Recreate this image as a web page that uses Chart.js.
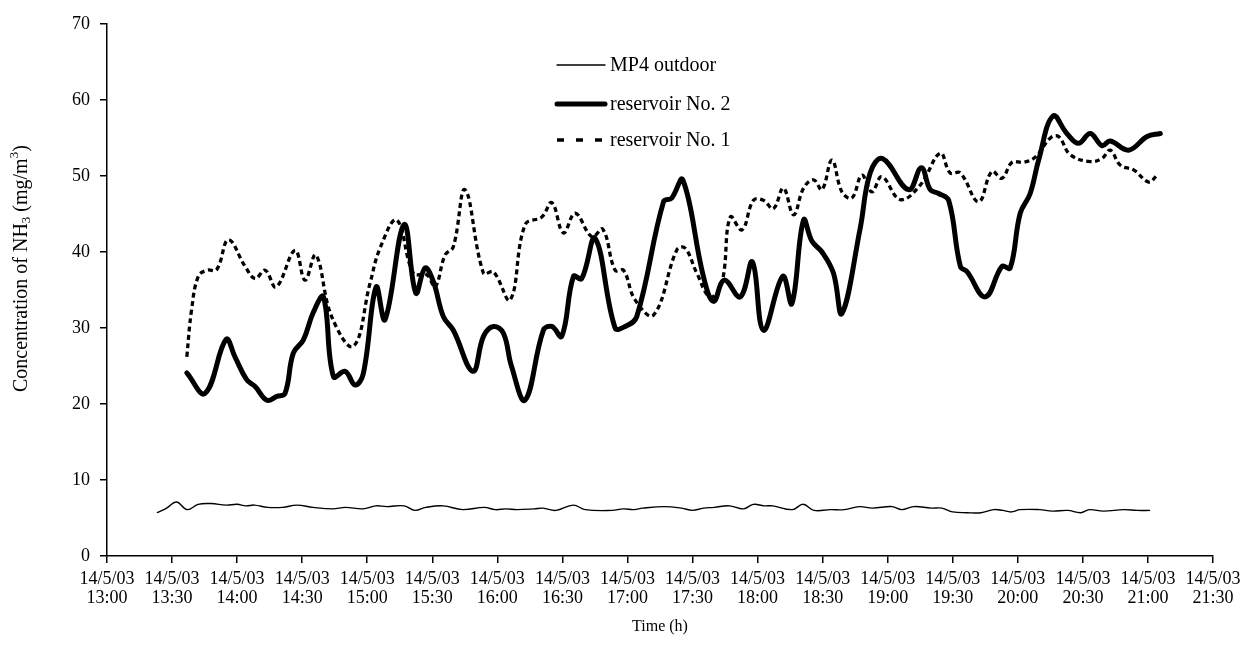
<!DOCTYPE html>
<html>
<head>
<meta charset="utf-8">
<script src="https://cdn.jsdelivr.net/npm/chart.js@4/dist/chart.umd.min.js"></script>
<style>
  html, body { margin: 0; padding: 0; background: #fff; }
  canvas { display: block; }
</style>
</head>
<body>
<canvas id="grafico" width="1242" height="652"></canvas>
<script>
// times are minutes after 14/5/03 13:00
const tickDate = '14/5/03';

const outdoorT = [23,27.5,32,37,42,48,55,60,64,68,74,81,87.5,95,104,110,118,124,129,137,142,147,155,164,174,179,184,189,197,201,207,215,220.5,233,238,243,247,257,265,270,275,280,287,293.5,298,303,307,316,321,326,333.5,340,347,353,362,366.5,372,380,385,390,396.5,403,409,413,417,421,430,436,443,449,453,459.5,469,475,481];
const outdoorV = [5.7,6.3,7.1,6.1,6.8,6.9,6.7,6.8,6.6,6.7,6.4,6.4,6.7,6.4,6.2,6.4,6.2,6.6,6.5,6.6,6.0,6.4,6.6,6.1,6.4,6.1,6.2,6.1,6.2,6.3,6.0,6.7,6.1,6.0,6.2,6.1,6.3,6.5,6.3,6.0,6.3,6.4,6.6,6.2,6.8,6.6,6.6,6.1,6.8,6.0,6.1,6.1,6.5,6.3,6.5,6.1,6.5,6.3,6.3,5.8,5.7,5.7,6.1,6.0,5.8,6.1,6.1,5.9,6.0,5.7,6.1,5.9,6.1,6.0,6.0];

const res2T = [36.8,45.2,54.9,59,64.4,68.3,73.7,78.3,82.1,85.9,90.5,95.2,99.8,104.4,109.8,114.4,118.2,124.1,128.2,137,142.4,146.7,150.5,155.1,159.7,168.7,173.6,178.2,182.8,186.5,192.8,201.2,205.1,209.7,215.1,218.9,225.1,234.3,238.9,244.3,256.6,260.4,265.5,275,279.7,284.6,292,297.6,302.7,311.6,315.8,321.2,325.1,329.7,335,338.9,347.3,351.9,357.6,369.6,375.5,379.6,383.5,388.1,393.5,396.6,405,412.7,416.5,421.1,425.7,429.6,436.2,442.6,448,453.4,458.8,462.6,471.1,479.6,485.7];
const res2V = [24.1,21.4,28.5,26.2,23.2,22.3,20.5,21,21.4,26.7,28.4,32.1,34.1,23.6,24.3,22.5,24,35.4,31.1,43.6,34.6,37.9,36.1,31.5,29.7,24.3,28.9,30.2,29.3,25,20.5,29.7,30.2,28.9,36.8,36.5,41.8,30,30.2,31.5,46.6,47.1,49.5,36.8,33.5,36.3,34.1,38.7,29.7,36.8,33.2,44.2,41.4,40,37.2,31.9,43.1,50.4,52.3,48.2,51.1,48.2,47.7,46.8,38.1,37.4,34.1,38.1,37.9,45.1,47.7,52.1,57.9,55.6,54.3,55.6,54,54.6,53.4,55.2,55.6];

const res1T = [36.8,39,42.1,46,50.6,56,63.7,68.3,72.9,78,86.7,91.3,96.3,103.6,113.6,121.3,125.9,133.6,141.3,147.5,151.3,155.9,159.7,165.1,173.6,178.2,185.9,192.8,200.5,205.1,210.5,215.9,223.6,228.6,234.3,238.2,243.5,252,262.8,266.6,272,278.1,283.5,287.4,292.8,298.1,302.7,307.3,311.9,316.6,321.2,325.8,329.7,334.3,338.9,343.5,348.1,352.7,357.3,365.8,375,384.2,388.8,393.5,401.9,408,412.7,417.3,422.7,428.1,435,438.8,444.2,453.4,458.8,462.6,467.3,473.4,480.4,484.2];
const res1V = [26.2,32.4,36.8,37.6,37.7,41.6,38.1,36.5,37.6,35.4,40.2,36.3,39.6,31.5,27.6,35.9,40.5,44.2,37.2,37,35.4,39.6,40.7,48.2,37.2,37.4,33.7,43.6,44.6,46.5,42.5,45.1,42,43,37.6,37.6,33.7,31.7,40.3,40.5,37.2,34.1,35.9,44.6,42.9,46.8,46.8,45.7,48.4,44.9,48.4,49.5,48.2,52.1,47.9,47.1,50.1,47.9,49.9,46.9,48.8,53,50.4,50.4,46.6,50.6,49.7,51.8,51.8,52.5,55,55.2,52.8,51.9,52.3,53.4,51.4,50.8,49.2,50.1];

function pontos(ts, vs) {
	return ts.map((t, i) => ({ x: t, y: vs[i] }));
}

function hora(min) {
	const total = 13 * 60 + min;
	const h = Math.floor(total / 60);
	const m = total % 60;
	return h + ':' + (m < 10 ? '0' : '') + m;
}

const fonte = 'Liberation Serif, Times New Roman, serif';

// legend drawn inside the plot, like the original
const legendaPlugin = {
	id: 'legendaInterna',
	afterDraw(chart) {
		const ctx = chart.ctx;
		const x0 = 557, x1 = 605, xt = 610;
		const linhas = [65, 104, 140];
		ctx.save();
		chart.data.datasets.forEach((ds, i) => {
			const y = linhas[i];
			ctx.beginPath();
			ctx.strokeStyle = '#000';
			ctx.lineWidth = ds.borderWidth;
			ctx.lineCap = ds.borderDash ? 'butt' : 'round';
			ctx.setLineDash(ds.borderDash ? [7, 12] : []);
			ctx.moveTo(x0, y);
			ctx.lineTo(x1, y);
			ctx.stroke();
			ctx.setLineDash([]);
			ctx.fillStyle = '#000';
			ctx.font = '20px ' + fonte;
			ctx.textBaseline = 'middle';
			ctx.textAlign = 'left';
			ctx.fillText(ds.label, xt, y + 1);
		});
		ctx.restore();
	}
};

// axis titles, with the subscript / superscript of the original
const titulosPlugin = {
	id: 'titulos',
	afterDraw(chart) {
		const ctx = chart.ctx;
		const area = chart.chartArea;
		ctx.save();
		ctx.fillStyle = '#000';
		ctx.textBaseline = 'middle';
		ctx.textAlign = 'center';
		ctx.font = '16px ' + fonte;
		ctx.fillText('Time (h)', (area.left + area.right) / 2, 627);

		ctx.translate(22, 392);
		ctx.rotate(-Math.PI / 2);
		ctx.textAlign = 'left';
		const partes = [
			['Concentration of NH', 20, 0],
			['3', 13, 5],
			[' (mg/m', 20, 0],
			['3', 13, -7],
			[')', 20, 0]
		];
		let x = 0;
		partes.forEach(p => {
			ctx.font = p[1] + 'px ' + fonte;
			ctx.fillText(p[0], x, p[2]);
			x += ctx.measureText(p[0]).width;
		});
		ctx.restore();
	}
};

const ctx = document.getElementById('grafico').getContext('2d');
let myChart = new Chart(ctx, {
	type: 'line',
	data: {
		datasets: [{
			label: 'MP4 outdoor',
			data: pontos(outdoorT, outdoorV),
			borderColor: '#000',
			borderWidth: 1.4,
			tension: 0.4,
			pointRadius: 0
		}, {
			label: 'reservoir No. 2',
			data: pontos(res2T, res2V),
			borderColor: '#000',
			borderWidth: 5,
			borderJoinStyle: 'round',
			borderCapStyle: 'round',
			tension: 0.4,
			pointRadius: 0
		}, {
			label: 'reservoir No. 1',
			data: pontos(res1T, res1V),
			borderColor: '#000',
			borderWidth: 3.3,
			borderDash: [5, 3.5],
			tension: 0.4,
			pointRadius: 0
		}]
	},
	options: {
		responsive: false,
		animation: false,
		devicePixelRatio: 1,
		layout: { padding: { left: 0, right: 29, top: 24, bottom: 0 } },
		plugins: {
			legend: { display: false },
			tooltip: { enabled: false }
		},
		scales: {
			x: {
				type: 'linear',
				min: 0,
				max: 510,
				afterFit: s => { s.height = 96; s.paddingLeft = 0; s.paddingRight = 0; },
				ticks: {
					stepSize: 30,
					autoSkip: false,
					maxRotation: 0,
					padding: 7,
					color: '#000',
					font: { family: fonte, size: 18, lineHeight: 1.05 },
					callback: v => [tickDate, hora(v)]
				},
				grid: { drawOnChartArea: false, drawTicks: true, tickLength: 7, color: '#000', lineWidth: 1.5 },
				border: { color: '#000', width: 1.5 }
			},
			y: {
				min: 0,
				max: 70,
				afterFit: s => { s.width = 107; },
				ticks: {
					stepSize: 10,
					padding: 10,
					color: '#000',
					font: { family: fonte, size: 18 }
				},
				grid: { drawOnChartArea: false, drawTicks: true, tickLength: 7, color: '#000', lineWidth: 1.5 },
				border: { color: '#000', width: 1.5 }
			}
		}
	},
	plugins: [legendaPlugin, titulosPlugin]
});
</script>
</body>
</html>
